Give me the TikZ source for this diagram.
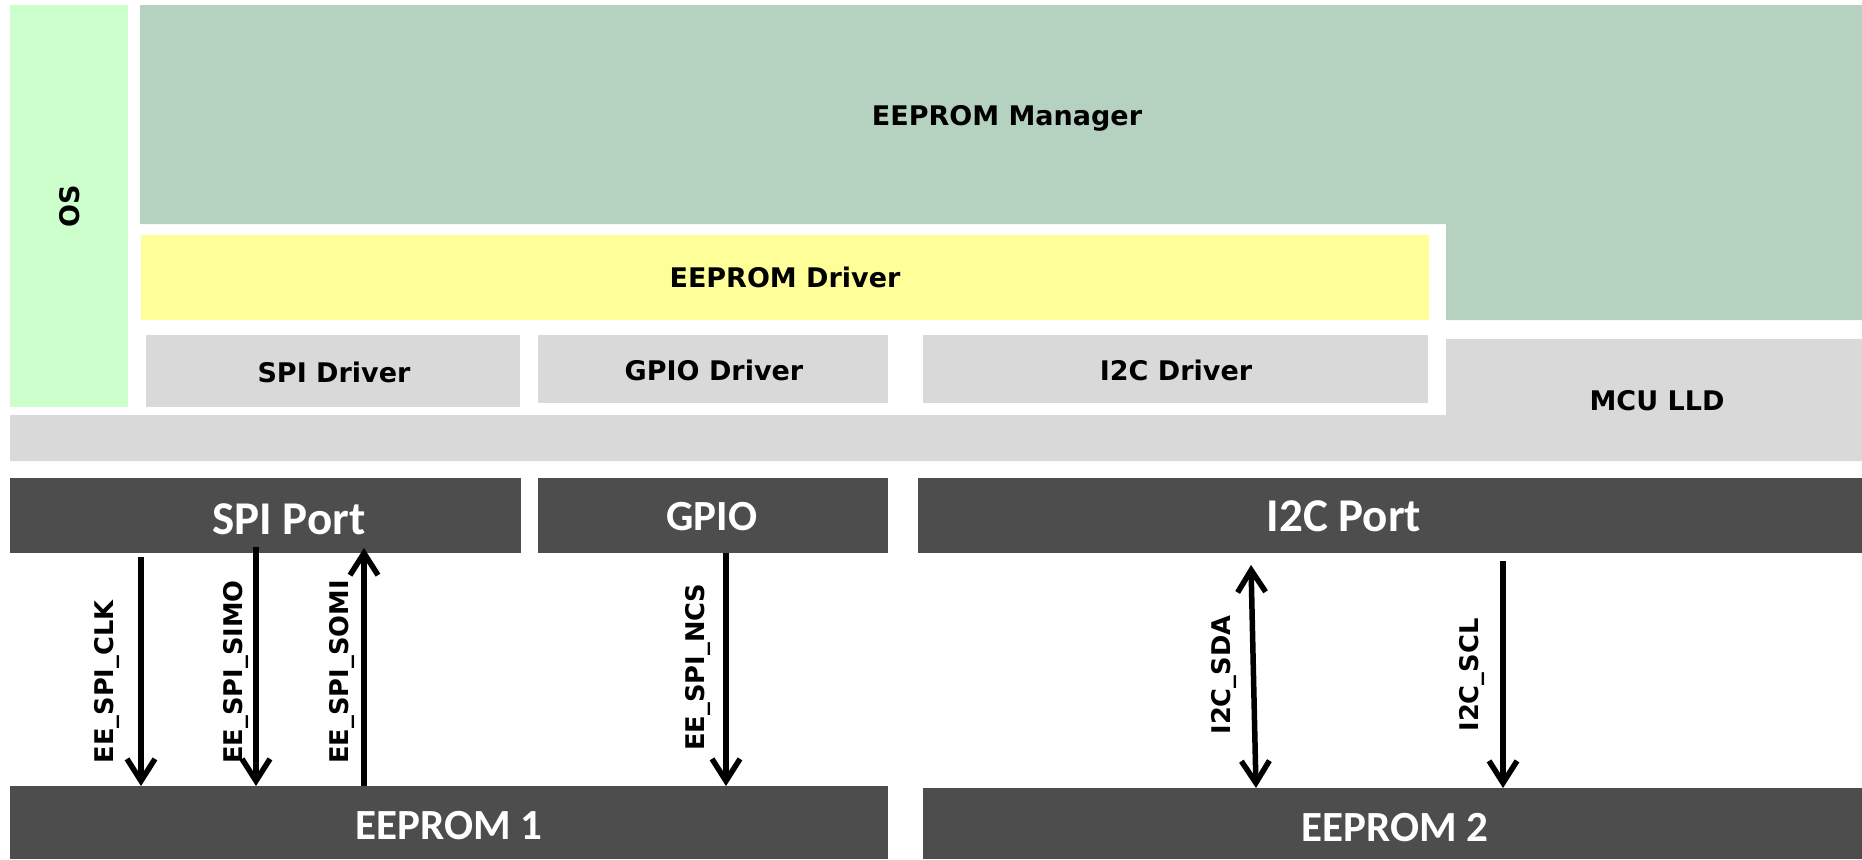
\documentclass[tikz,border=0pt]{standalone}
\usepackage{fontspec}
\setmainfont{DejaVu Sans}
\newfontfamily\portfont{Carlito}
\usetikzlibrary{arrows.meta,fit}

\definecolor{osgreen}{HTML}{CCFFCC}
\definecolor{mgrgreen}{HTML}{B5D2C0}
\definecolor{drvyellow}{HTML}{FFFF99}
\definecolor{lldgrey}{HTML}{D9D9D9}
\definecolor{portgrey}{HTML}{4D4D4D}

\tikzset{
  block/.style={inner sep=0pt, outer sep=0pt, draw=none},
  swlabel/.style={font=\fontsize{13.5}{16}\selectfont\bfseries, anchor=base, inner sep=0pt},
  hwlabel/.style={font=\portfont\fontsize{21.5}{26}\selectfont\bfseries, text=white, anchor=base, inner sep=0pt},
  portlabel/.style={hwlabel, font=\portfont\fontsize{23.5}{28}\selectfont\bfseries},
  siglabel/.style={font=\fontsize{12.85}{15}\selectfont\bfseries, rotate=90, inner sep=0pt},
  barb/.tip={Straight Barb[length=11pt,width=14pt]},
  signal/.style={line width=2.75pt, -barb},
  bisignal/.style={line width=2.75pt, barb-barb},
}

\begin{document}
\begin{tikzpicture}[x=0.5pt,y=-0.5pt]
\useasboundingbox (0,0) rectangle (1862,859);

% ---- software stack ----
\node[block, fill=osgreen, fit={(10,5) (128,407)}] (os) {};
\node[swlabel, rotate=90, anchor=center] (os-lbl) at (70,206) {OS};

\fill[mgrgreen] (140,5) -- (1862,5) -- (1862,320) -- (1446,320)
  -- (1446,224) -- (140,224) -- cycle;
\node[swlabel] (mgr-lbl) at (1007,125) {EEPROM Manager};

\node[block, fill=drvyellow, fit={(141,235) (1429,320)}] (eedrv) {};
\node[swlabel] (eedrv-lbl) at (785,287) {EEPROM Driver};

\node[block, fill=lldgrey, fit={(146,335) (520,407)}] (spidrv) {};
\node[swlabel] (spidrv-lbl) at (334,382) {SPI Driver};
\node[block, fill=lldgrey, fit={(538,335) (888,403)}] (gpiodrv) {};
\node[swlabel] (gpiodrv-lbl) at (714,380) {GPIO Driver};
\node[block, fill=lldgrey, fit={(923,335) (1428,403)}] (i2cdrv) {};
\node[swlabel] (i2cdrv-lbl) at (1176,380) {I2C Driver};

\fill[lldgrey] (10,415) -- (1446,415) -- (1446,339) -- (1862,339)
  -- (1862,461) -- (10,461) -- cycle;
\node[swlabel] (lld-lbl) at (1657,410) {MCU LLD};

% ---- hardware ----
\node[block, fill=portgrey, fit={(10,478) (521,553)}] (spiport) {};
\node[portlabel] (spiport-lbl) at (289,534) {SPI Port};
\node[block, fill=portgrey, fit={(538,478) (888,553)}] (gpio) {};
\node[hwlabel] (gpio-lbl) at (712,530) {GPIO};
\node[block, fill=portgrey, fit={(918,478) (1862,553)}] (i2cport) {};
\node[portlabel] (i2cport-lbl) at (1344,531) {I2C Port};

\node[block, fill=portgrey, fit={(10,786) (888,859)}] (ee1) {};
\node[hwlabel] (ee1-lbl) at (449,839) {EEPROM 1};
\node[block, fill=portgrey, fit={(923,788) (1862,859)}] (ee2) {};
\node[hwlabel] (ee2-lbl) at (1395,841) {EEPROM 2};

% ---- signal lines ----
\coordinate (clk-top) at (141,557);
\coordinate (simo-top) at (256,547);
\coordinate (somi-top) at (364,548);
\coordinate (ncs-x) at (726,0);
\coordinate (sda-top) at (1251,565);
\coordinate (sda-x) at (1256,0);
\coordinate (scl-top) at (1503,561);

\draw[signal] (clk-top) -- (clk-top |- ee1.north);
\draw[signal] (simo-top) -- (simo-top |- ee1.north);
\draw[signal] (somi-top |- ee1.north) -- (somi-top);
\draw[signal] (ncs-x |- gpio.south) -- (ncs-x |- ee1.north);
\draw[bisignal] (sda-top) -- (sda-x |- ee2.north);
\draw[signal] (scl-top) -- (scl-top |- ee2.north);

\node[siglabel] (clk-lbl) at (107,682) {EE\_SPI\_CLK};
\node[siglabel] (simo-lbl) at (236,672) {EE\_SPI\_SIMO};
\node[siglabel] (somi-lbl) at (342,672) {EE\_SPI\_SOMI};
\node[siglabel] (ncs-lbl) at (698,667) {EE\_SPI\_NCS};
\node[siglabel] (sda-lbl) at (1224,675) {I2C\_SDA};
\node[siglabel] (scl-lbl) at (1472,675) {I2C\_SCL};
\end{tikzpicture}
\end{document}
